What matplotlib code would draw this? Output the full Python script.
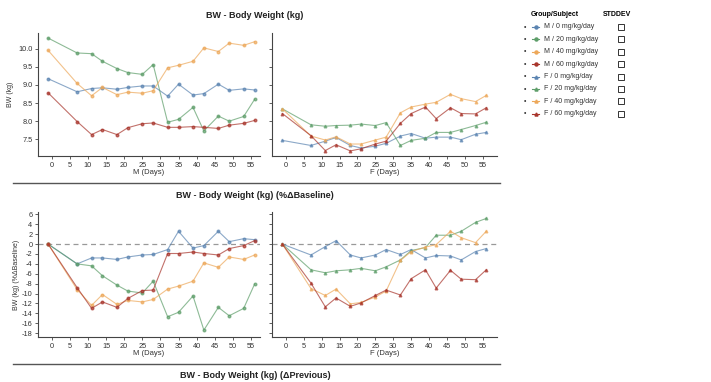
import matplotlib
matplotlib.use("Agg")
import matplotlib.pyplot as plt
from matplotlib.lines import Line2D
from matplotlib.patches import Rectangle

days = [-1, 7, 11, 14, 18, 21, 25, 28, 32, 35, 39, 42, 46, 49, 53, 56]

groups = ["0 mg/kg/day", "20 mg/kg/day", "40 mg/kg/day", "60 mg/kg/day"]
colors = ["#5b84b1", "#5e9e6a", "#eda85a", "#a8352c"]

# body weight (kg)
bw_m = [
    [9.17, 8.81, 8.90, 8.92, 8.88, 8.93, 8.97, 8.97, 8.69, 9.02, 8.72, 8.76, 9.02, 8.85, 8.89, 8.86],
    [10.29, 9.88, 9.86, 9.65, 9.45, 9.34, 9.29, 9.56, 7.97, 8.05, 8.38, 7.73, 8.14, 8.00, 8.13, 8.60],
    [9.95, 9.04, 8.70, 8.93, 8.73, 8.80, 8.77, 8.84, 9.47, 9.54, 9.65, 10.02, 9.92, 10.15, 10.09, 10.19],
    [8.78, 7.99, 7.63, 7.77, 7.63, 7.82, 7.93, 7.95, 7.83, 7.83, 7.85, 7.83, 7.80, 7.89, 7.94, 8.02],
]
bw_f = [
    [7.47, 7.33, 7.45, 7.55, 7.33, 7.26, 7.31, 7.39, 7.59, 7.66, 7.53, 7.56, 7.56, 7.49, 7.64, 7.69],
    [8.34, 7.90, 7.86, 7.88, 7.89, 7.92, 7.88, 7.96, 7.33, 7.47, 7.53, 7.69, 7.69, 7.77, 7.88, 7.97],
    [8.34, 7.59, 7.48, 7.57, 7.37, 7.37, 7.48, 7.56, 8.23, 8.39, 8.47, 8.52, 8.74, 8.62, 8.54, 8.71],
    [8.21, 7.60, 7.19, 7.35, 7.18, 7.24, 7.37, 7.45, 7.94, 8.21, 8.39, 8.07, 8.37, 8.21, 8.20, 8.37],
]

# % change from baseline
pct_m = [
    [0, -4.0, -2.8, -2.8, -3.1, -2.6, -2.2, -2.1, -1.1, 2.6, -0.8, -0.3, 2.6, 0.5, 1.1, 0.9],
    [0, -4.0, -4.4, -6.4, -8.3, -9.5, -9.9, -7.5, -14.7, -13.8, -10.5, -17.4, -12.8, -14.5, -13.0, -8.1],
    [0, -9.2, -12.4, -10.2, -12.2, -11.4, -11.7, -11.2, -9.1, -8.5, -7.5, -3.8, -4.7, -2.6, -3.1, -2.2],
    [0, -8.8, -13.0, -11.7, -12.8, -11.0, -9.4, -9.3, -1.9, -1.9, -1.6, -1.9, -2.2, -0.9, -0.3, 0.7],
]
pct_f = [
    [0, -2.2, -0.5, 0.7, -2.2, -2.8, -2.2, -1.1, -2.1, -1.1, -2.8, -2.3, -2.4, -3.2, -1.5, -0.9],
    [0, -5.2, -5.8, -5.4, -5.2, -4.9, -5.4, -4.6, -3.2, -1.3, -0.7, 1.8, 1.8, 2.6, 4.4, 5.2],
    [0, -9.0, -10.4, -9.1, -12.1, -11.8, -10.7, -9.5, -3.3, -1.5, -0.6, -0.1, 2.6, 1.3, 0.3, 2.6],
    [0, -7.9, -12.7, -10.9, -12.6, -11.9, -10.4, -9.3, -10.3, -7.0, -5.2, -8.9, -5.3, -7.1, -7.2, -5.2],
]

W, H = 711, 382
fig = plt.figure(figsize=(W / 100, H / 100), dpi=100)
plt.rcParams["font.family"] = ["Liberation Sans", "DejaVu Sans"]


def px_axes(x0, y0, x1, y1):
    return fig.add_axes([x0 / W, 1 - y1 / H, (x1 - x0) / W, (y1 - y0) / H])


def style(ax, xlim, ylim, yticks, xlabel, show_ylabels, fmt):
    ax.set_xlim(*xlim)
    ax.set_ylim(*ylim)
    ax.set_xticks(range(0, 56, 5))
    ax.set_yticks(yticks)
    if show_ylabels:
        ax.set_yticklabels([fmt % t for t in yticks])
    else:
        ax.set_yticklabels([])
    for s in ["top", "right"]:
        ax.spines[s].set_visible(False)
    for s in ["left", "bottom"]:
        ax.spines[s].set_color("#444444")
        ax.spines[s].set_linewidth(0.8)
    ax.tick_params(labelsize=5.3, length=2.5, width=0.6, color="#444444", pad=1.5, labelcolor="#333333")
    ax.set_xlabel(xlabel, fontsize=5.5, labelpad=0, color="#333333")


def draw(ax, data, marker):
    for vals, c in zip(data, colors):
        ax.plot(days, vals, color=c, lw=0.8, alpha=0.7, marker=marker, ms=1.9, mfc=c, mec=c)


ax1 = px_axes(38, 33, 260, 156)
ax2 = px_axes(272, 33, 497, 156)
ax3 = px_axes(38, 212, 260, 337)
ax4 = px_axes(272, 212, 497, 337)

bw_ticks = [7.5, 8.0, 8.5, 9.0, 9.5, 10.0]
pct_ticks = list(range(-18, 7, 2))

draw(ax1, bw_m, "o")
draw(ax2, bw_f, "^")
style(ax1, (-3.8, 57.5), (7.04, 10.43), bw_ticks, "M (Days)", True, "%.1f")
style(ax2, (-3.9, 59.0), (7.04, 10.43), bw_ticks, "F (Days)", False, "%.1f")
ax1.set_ylabel("BW (kg)", fontsize=5, color="#333333", labelpad=3)

for ax in (ax3, ax4):
    ax.axhline(0, color="#999999", lw=0.9, ls=(0, (4, 3)), zorder=0)
draw(ax3, pct_m, "o")
draw(ax4, pct_f, "^")
style(ax3, (-3.8, 57.5), (-18.8, 6.5), pct_ticks, "M (Days)", True, "%d")
style(ax4, (-3.9, 59.0), (-18.8, 6.5), pct_ticks, "F (Days)", False, "%d")
ax3.set_ylabel("BW (kg) (%\u0394Baseline)", fontsize=5, color="#333333", labelpad=1)

# titles and separators
for y, title in [(16, "BW - Body Weight (kg)"),
                 (195, "BW - Body Weight (kg) (%\u0394Baseline)"),
                 (376, "BW - Body Weight (kg) (\u0394Previous)")]:
    fig.text(255 / W, 1 - y / H, title, ha="center", va="center", fontsize=6.5,
             fontweight="bold", color="#222222")
for y in (183, 364):
    fig.add_artist(Line2D([13 / W, 500 / W], [1 - y / H, 1 - y / H], color="#555555", lw=1.0))

# legend
fig.text(555 / W, 1 - 15 / H, "Group/Subject", ha="center", va="center", fontsize=5, fontweight="bold")
fig.text(617 / W, 1 - 15 / H, "STDDEV", ha="center", va="center", fontsize=5, fontweight="bold")
labels = ["M / " + g for g in groups] + ["F / " + g for g in groups]
markers = ["o"] * 4 + ["^"] * 4
for i, (lab, mk) in enumerate(zip(labels, markers)):
    y = 1 - (27 + i * 12.4) / H
    c = colors[i % 4]
    fig.text(525 / W, y, "\u2022", ha="center", va="center", fontsize=5, color="#333333")
    fig.add_artist(Line2D([532 / W, 539 / W], [y, y], color=c, lw=0.8))
    fig.add_artist(Line2D([535.5 / W], [y], color=c, marker=mk, ms=2.2, lw=0))
    fig.text(544 / W, y, lab, ha="left", va="center", fontsize=5, color="#333333")
    fig.add_artist(Rectangle(((617.5) / W, y - 3 / H), 6 / W, 6 / H, fill=False,
                             ec="#333333", lw=0.7))

fig.savefig("out.png", dpi=100)
